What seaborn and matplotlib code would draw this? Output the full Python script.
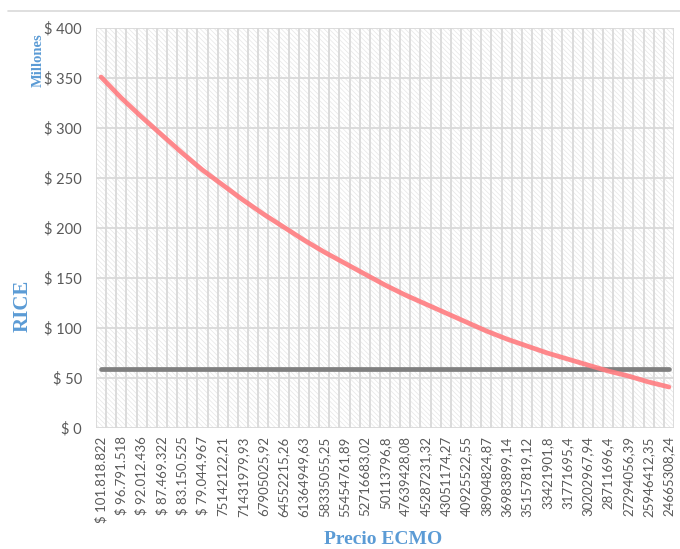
#!/usr/bin/env python3
"""
RICE vs Precio ECMO - recreación del gráfico
"""

import numpy as np
import pandas as pd
import matplotlib
matplotlib.use("Agg")
import matplotlib.pyplot as plt
from matplotlib.patches import Rectangle
from matplotlib.lines import Line2D
import seaborn as sns

# datos (millones)
precio_labels = [
    "$ 101.818.822", "$ 96.791.518", "$ 92.012.436", "$ 87.469.322",
    "$ 83.150.525", "$ 79.044.967", "75142122,21", "71431979,93",
    "67905025,92", "64552215,26", "61364949,63", "58335055,25",
    "55454761,89", "52716683,02", "50113796,8", "47639428,08",
    "45287231,32", "43051174,27", "40925522,55", "38904824,87",
    "36983899,14", "35157819,12", "33421901,8", "31771695,4",
    "30202967,94", "28711696,4", "27294056,39", "25946412,35",
    "24665308,24",
]
rice = [351, 330, 311, 293, 275, 258, 243, 228, 214, 201, 188, 176, 165, 154,
        143, 133, 124, 115, 106, 97, 89, 82, 75, 69, 63, 57, 52, 46, 41]
umbral = [59] * len(precio_labels)

y_ticks = [0, 50, 100, 150, 200, 250, 300, 350, 400]

BLUE = "#5B9BD5"
GREY_TXT = "#595959"
GRID = "#D9D9D9"

df = pd.DataFrame({"pos": np.arange(len(precio_labels)), "rice": rice, "umbral": umbral})

sns.set_theme(style="white")
plt.rcParams["font.family"] = ["Lato", "DejaVu Sans"]
plt.rcParams["hatch.linewidth"] = 0.5

fig = plt.figure(figsize=(6.8, 5.49), dpi=100)
ax = fig.add_axes([96 / 680, 1 - 428 / 549, 578 / 680, 400 / 549])

# fondo rayado
ax.add_patch(Rectangle((0, 0), 1, 1, transform=ax.transAxes, facecolor="white",
                       edgecolor="#E6E6E6", hatch="\\" * 7, linewidth=0, zorder=0))

sns.lineplot(data=df, x="pos", y="umbral", ax=ax, color="#7F7F7F", linewidth=3.4, zorder=3)
sns.lineplot(data=df, x="pos", y="rice", ax=ax, color="#FF7C80", linewidth=3.4, alpha=0.9, zorder=4)

ax.set_xlim(-0.25, len(precio_labels) - 0.75)
ax.set_ylim(0, 400)

# rejilla
ax.set_xticks(np.arange(len(precio_labels)))
ax.set_xticks(np.arange(-0.25, len(precio_labels) - 0.5, 0.5), minor=True)
ax.set_yticks(y_ticks)
ax.grid(False)
ax.grid(which="minor", axis="x", color=GRID, linewidth=1.3, zorder=1)
ax.grid(which="major", axis="y", color=GRID, linewidth=1.3, zorder=1)
ax.set_axisbelow(True)
for s in ax.spines.values():
    s.set_visible(False)

ax.set_xticklabels(precio_labels, rotation=90, fontsize=9.5, color=GREY_TXT)
ax.set_yticklabels([f"$ {v}" for v in y_ticks], fontsize=10.5, color=GREY_TXT)
ax.tick_params(axis="x", which="both", length=0, pad=6)
ax.tick_params(axis="y", which="both", length=0, pad=10)

ax.set_xlabel("")
ax.set_ylabel("")

serif = ["Liberation Serif", "DejaVu Serif"]
fig.text(23 / 680, 1 - 306 / 549, "RICE", rotation=90, ha="center", va="center",
         color=BLUE, fontsize=15, fontweight="bold", family=serif)
fig.text(38 / 680, 1 - 60 / 549, "Millones", rotation=90, ha="center", va="center",
         color=BLUE, fontsize=10.5, fontweight="bold", family=serif)
fig.text(383 / 680, 1 - 540 / 549, "Precio ECMO", ha="center", va="center",
         color=BLUE, fontsize=14, fontweight="bold", family=serif)

# línea superior del marco
fig.add_artist(Line2D([8 / 680, 1.0], [1 - 10.5 / 549] * 2, color=GRID, linewidth=1.2))

fig.savefig("out.png", dpi=100)
